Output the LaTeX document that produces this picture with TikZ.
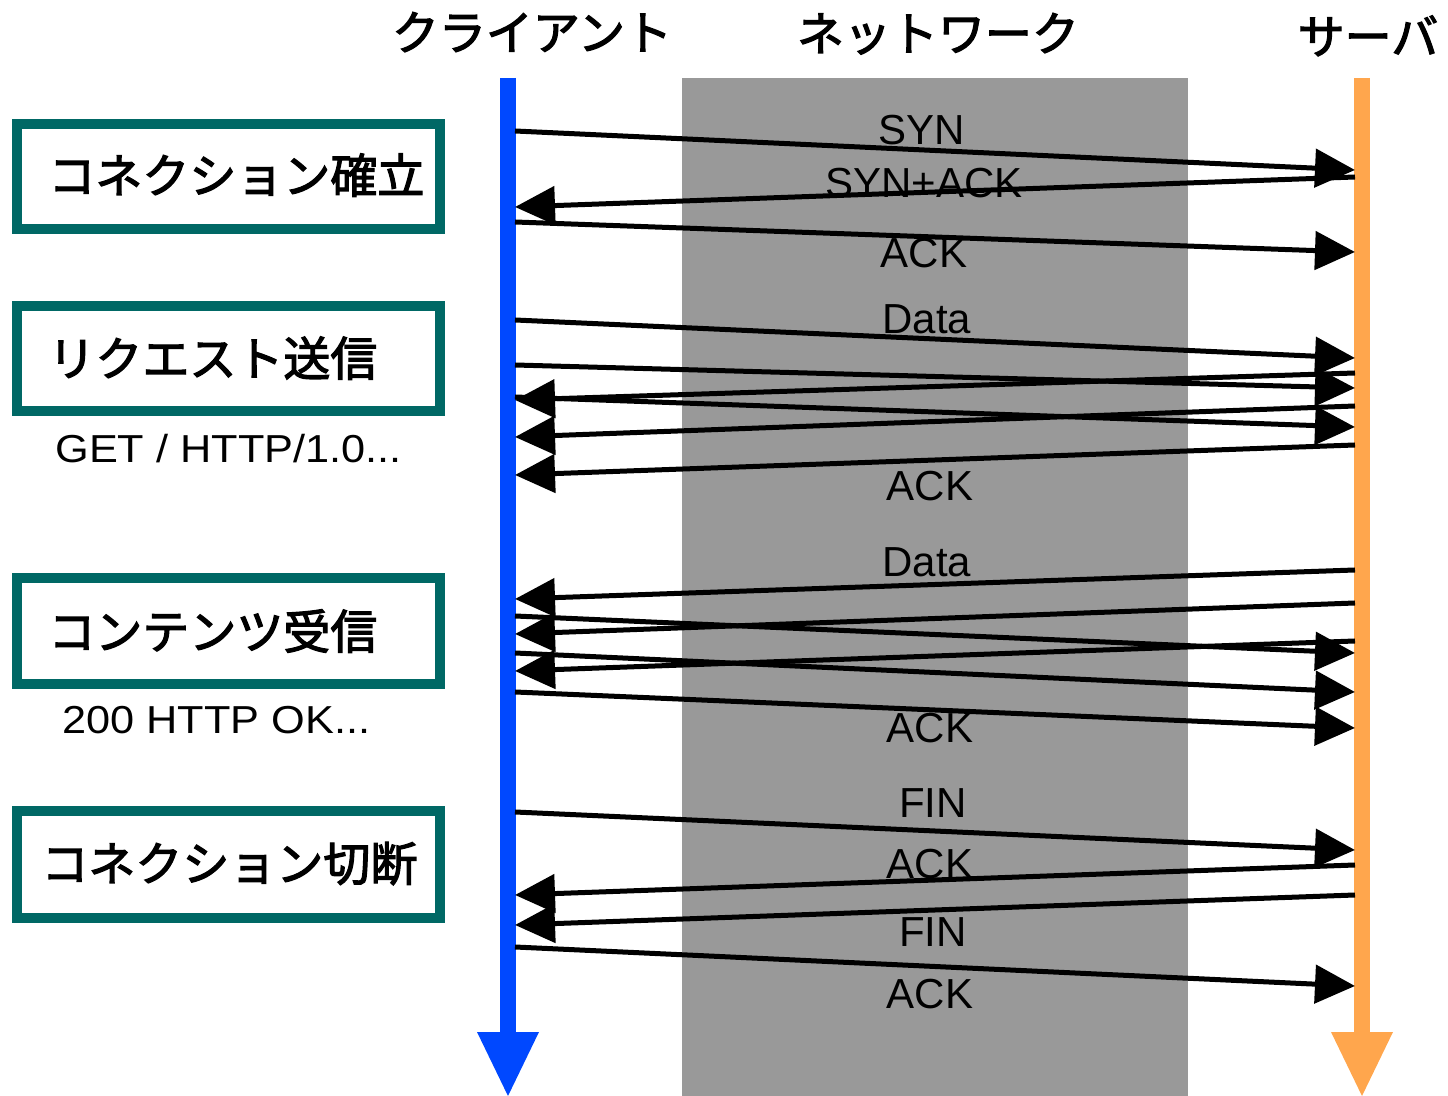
\documentclass[tikz,border=0pt]{standalone}
\usepackage{fontspec}
\setmainfont{Liberation Sans}
\newfontfamily\jpfont[BoldFont={Noto Sans CJK JP}, BoldFeatures={FakeBold=2.5}]{Noto Sans CJK JP}
\newfontfamily\widefont[FakeStretch=1.11]{Liberation Sans}
\usetikzlibrary{arrows.meta}
\definecolor{stageteal}{RGB}{0,104,101}
\definecolor{cblue}{RGB}{0,72,255}
\definecolor{sorange}{RGB}{255,166,77}
\definecolor{netgray}{RGB}{153,153,153}
\begin{document}
\begin{tikzpicture}[x=0.5pt,y=-0.5pt,
  title/.style={font=\jpfont\bfseries\fontsize{23.5pt}{24pt}\selectfont, inner sep=0pt, anchor=base},
  stage/.style={draw=stageteal, line width=5pt, fill=white},
  stagetext/.style={font=\jpfont\bfseries\fontsize{23.5pt}{24pt}\selectfont, inner sep=0pt, anchor=base west},
  proto/.style={font=\widefont\fontsize{19.5pt}{20pt}\selectfont, inner sep=0pt, anchor=base west},
  lbl/.style={font=\fontsize{21pt}{22pt}\selectfont, inner sep=0pt, anchor=base},
  msg/.style={line width=2.5pt, -{Triangle[length=20pt,width=19pt]}},
  life/.style={line width=8pt}]
\useasboundingbox (0,0) rectangle (1448,1096);
% network band
\fill[netgray] (682,78) rectangle (1188,1096);
% titles
\node[title] (tclient) at (532,50) {クライアント};
\node[title] (tnet) at (938,51) {ネットワーク};
\node[title] (tserver) at (1368,54) {サーバ};
% lifelines
\coordinate (ctop) at (508,78);
\coordinate (cbase) at (508,1032);
\coordinate (ctip) at (508,1096);
\coordinate (stop) at (1362,78);
\coordinate (sbase) at (1362,1032);
\coordinate (stip) at (1362,1096);
\draw[life, cblue] (ctop) -- (cbase);
\fill[cblue] (477,1032) -- (539,1032) -- (ctip) -- cycle;
\draw[life, sorange] (stop) -- (sbase);
\fill[sorange] (1331,1032) -- (1393,1032) -- (stip) -- cycle;
% stage boxes
\draw[stage] (17,124) rectangle (440,229);
\node[stagetext] (s1) at (48,193) {コネクション確立};
\draw[stage] (17,306) rectangle (440,411);
\node[stagetext] (s2) at (48,376) {リクエスト送信};
\node[proto] (p1) at (55,463) {GET / HTTP/1.0...};
\draw[stage] (17,578) rectangle (440,684);
\node[stagetext] (s3) at (48,649) {コンテンツ受信};
\node[proto] (p2) at (62,734) {200 HTTP OK...};
\draw[stage] (17,811) rectangle (440,918);
\node[stagetext] (s4) at (41,881) {コネクション切断};
% messages client -> server
\foreach \a/\b [count=\i] in {131/170, 222/252, 320/358, 365/388, 397/427, 616/653, 653/692, 692/728, 812/850, 947/986}{
  \coordinate (cs\i) at (515,\a);
  \coordinate (ce\i) at (1355,\b);
  \draw[msg] (cs\i) -- (ce\i);
}
% messages server -> client
\foreach \a/\b [count=\i] in {177/207, 373/400, 406/437, 445/475, 570/599, 603/634, 641/671, 865/895, 895/925}{
  \coordinate (ss\i) at (1355,\a);
  \coordinate (se\i) at (515,\b);
  \draw[msg] (ss\i) -- (se\i);
}
% labels
\node[lbl] (l1) at (922,145) {SYN};
\node[lbl] (l2) at (924,198) {SYN+ACK};
\node[lbl] (l3) at (924,268) {ACK};
\node[lbl] (l4) at (927,334) {Data};
\node[lbl] (l5) at (930,501) {ACK};
\node[lbl] (l6) at (927,577) {Data};
\node[lbl] (l7) at (930,743) {ACK};
\node[lbl] (l8) at (933,818) {FIN};
\node[lbl] (l9) at (930,878) {ACK};
\node[lbl] (l10) at (933,947) {FIN};
\node[lbl] (l11) at (930,1008) {ACK};
\end{tikzpicture}
\end{document}
